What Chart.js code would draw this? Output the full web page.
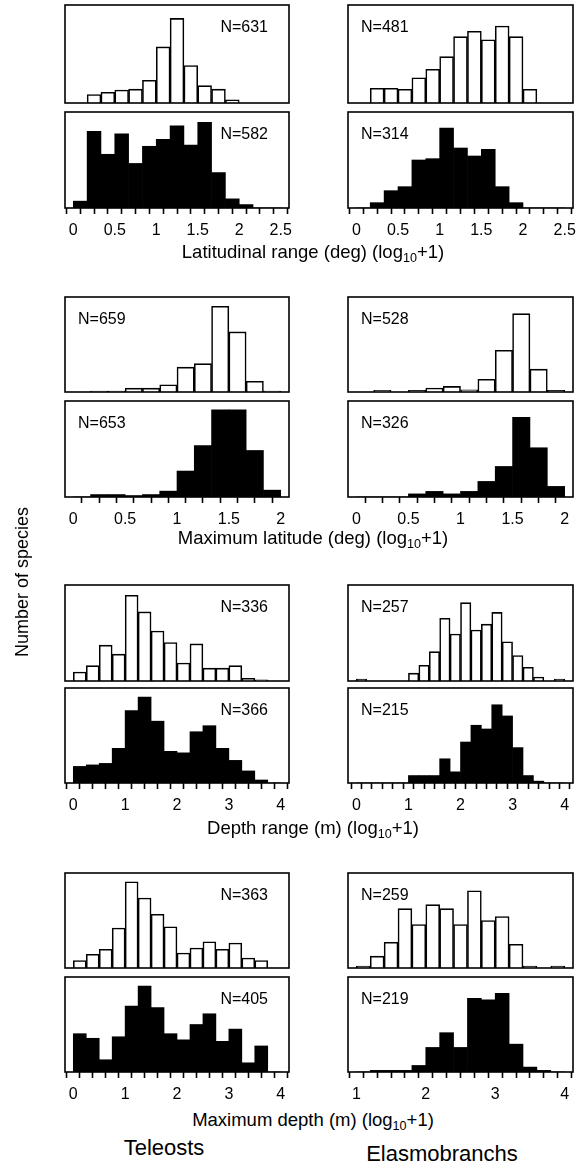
<!DOCTYPE html>
<html>
<head>
<meta charset="utf-8">
<script src="https://cdn.jsdelivr.net/npm/chart.js@4.4.1/dist/chart.umd.min.js"></script>
<style>
    body { margin: 0; background: #fff; }
    #figura { position: relative; width: 585px; height: 1165px; overflow: hidden; font-family: "Liberation Sans", Arial, sans-serif; color: #000; }
    #figura canvas { position: absolute; }
    .txt { position: absolute; white-space: nowrap; line-height: 1; }
    .txt sub { font-size: 0.68em; vertical-align: -0.3em; line-height: 0; }
</style>
</head>
<body>
<div id="figura"></div>
<script>
// --- Data: number of species per bin (open = upper panel, filled = lower panel) ---
const latRangeTicks = [0, 0.5, 1, 1.5, 2, 2.5];
const latRangeBin = 1 / 6;
const latRangeTelOpen   = [0, 19, 24, 29, 31, 51, 126, 190, 84, 39, 31, 7, 0, 0, 0];
const latRangeTelFilled = [6, 67, 47, 65, 39, 54, 60, 72, 55, 75, 31, 8, 3, 0, 0];
const latRangeElaOpen   = [0, 14, 14, 13, 24, 32, 44, 63, 68, 60, 73, 63, 13, 0, 0];
const latRangeElaFilled = [0, 4, 13, 16, 36, 37, 60, 45, 39, 44, 16, 4, 0, 0, 0];
const latRangeN = ['N=631', 'N=582', 'N=481', 'N=314'];

const maxLatTicks = [0, 0.5, 1, 1.5, 2];
const maxLatBin = 1 / 6;
const maxLatTelOpen   = [0, 3, 3, 11, 11, 21, 72, 82, 248, 174, 31, 3];
const maxLatTelFilled = [0, 5, 5, 3, 5, 12, 53, 105, 178, 178, 95, 14];
const maxLatElaOpen   = [0, 5, 0, 5, 12, 17, 7, 39, 128, 240, 70, 5];
const maxLatElaFilled = [0, 0, 0, 5, 9, 5, 9, 25, 49, 128, 79, 17];
const maxLatN = ['N=659', 'N=653', 'N=528', 'N=326'];

const depthTelTicks = [0, 1, 2, 3, 4];
const depthElaTicks = [0, 1, 2, 3, 4];
const depthTelBin = 0.25;
const depthElaBin = 0.2;
const depthTelOpen   = [7, 12, 28, 21, 67, 54, 39, 30, 14, 29, 10, 10, 12, 2, 1, 0];
const depthTelFilled = [11, 12, 13, 23, 48, 57, 41, 21, 20, 34, 38, 23, 15, 8, 2, 0];
const depthElaOpen   = [1, 0, 0, 0, 0, 4, 8, 15, 32, 24, 40, 26, 29, 35, 20, 13, 7, 2, 0, 1];
const depthElaFilled = [0, 0, 0, 0, 0, 4, 4, 4, 13, 6, 22, 31, 29, 42, 36, 19, 4, 1, 0, 0];
const depthN = ['N=336', 'N=366', 'N=257', 'N=215'];

const maxDepthTelTicks = [0, 1, 2, 3, 4];
const maxDepthElaTicks = [1, 2, 3, 4];
const maxDepthTelBin = 0.25;
const maxDepthElaBin = 0.2;
const maxDepthTelOpen   = [6, 11, 15, 32, 69, 56, 43, 33, 12, 16, 21, 15, 20, 8, 6, 0];
const maxDepthTelFilled = [25, 22, 8, 23, 43, 56, 42, 25, 21, 31, 38, 20, 28, 6, 17, 0];
const maxDepthElaOpen   = [1, 6, 13, 30, 22, 32, 30, 22, 39, 24, 26, 12, 1, 0, 1];
const maxDepthElaFilled = [0, 1, 1, 1, 4, 15, 24, 15, 45, 44, 48, 17, 3, 1, 0];
const maxDepthN = ['N=363', 'N=405', 'N=259', 'N=219'];

// y-axis top of each panel, same order as the N labels
const latRangeYMax = [220, 84, 93, 72];
const maxLatYMax = [275, 196, 291, 154];
const depthYMax = [75, 63, 49, 51];
const maxDepthYMax = [76, 62, 48, 58];

// --- Layout ---
const FONTE = '"Liberation Sans", Arial, sans-serif';
const COL_LEFT = [65, 348];
const COL_WIDTH = [224, 225];
const PAD = 15;
const AXIS_H = 34;

const figura = document.getElementById('figura');

// frame round the plotting area, as in the original
const moldura = {
    id: 'moldura',
    afterDraw(chart) {
        const { ctx, chartArea: a } = chart;
        ctx.save();
        ctx.lineWidth = 1.6;
        ctx.strokeStyle = '#000';
        ctx.strokeRect(a.left, a.top, a.right - a.left, a.bottom - a.top);
        ctx.restore();
    }
};

function texto(html, estilo) {
    const d = document.createElement('div');
    d.className = 'txt';
    d.innerHTML = html;
    Object.assign(d.style, estilo);
    figura.appendChild(d);
    return d;
}

function painel(opts) {
    const { left, top, bottom, counts, bin, ticks, yMax, filled, showAxis } = opts;
    const width = opts.width;
    const height = bottom - top;
    const first = ticks[0], last = ticks[ticks.length - 1];
    const ext = (last - first) * 0.04;
    const nEdges = Math.round((last - first) / bin);
    const edges = Array.from({ length: nEdges + 1 }, (_, i) => first + i * bin);

    const canvas = document.createElement('canvas');
    canvas.width = width + 2 * PAD;
    canvas.height = showAxis ? PAD + height + AXIS_H : height + 2 * PAD;
    canvas.style.left = (left - PAD) + 'px';
    canvas.style.top = (top - PAD) + 'px';
    figura.appendChild(canvas);

    new Chart(canvas, {
        type: 'bar',
        data: {
            datasets: [{
                label: filled ? 'filled' : 'open',
                data: counts.map((c, i) => ({ x: first + (i + 0.5) * bin, y: c })),
                backgroundColor: filled ? '#000' : '#fff',
                borderColor: '#000',
                borderWidth: filled ? 0 : 1.6,
                borderSkipped: 'start',
                barPercentage: 1,
                categoryPercentage: 1
            }]
        },
        options: {
            responsive: false,
            animation: false,
            events: [],
            layout: { padding: { left: PAD, right: PAD, top: PAD, bottom: showAxis ? 0 : PAD } },
            plugins: { legend: { display: false }, tooltip: { enabled: false } },
            scales: {
                x: {
                    type: 'linear',
                    display: showAxis,
                    min: first - ext,
                    max: last + ext,
                    offset: false,
                    bounds: 'data',
                    grid: { display: true, drawOnChartArea: false, drawTicks: true, tickLength: 6, tickWidth: 1.6, tickColor: '#000' },
                    border: { display: false },
                    ticks: {
                        autoSkip: false,
                        maxRotation: 0,
                        padding: 7,
                        color: '#000',
                        font: { family: FONTE, size: 16 },
                        callback: v => {
                            const t = ticks.find(m => Math.abs(m - v) < 1e-6);
                            return t === undefined ? '' : String(t);
                        }
                    },
                    afterBuildTicks: s => { s.ticks = edges.map(v => ({ value: v })); },
                    afterFit: s => { if (showAxis) s.height = AXIS_H; }
                },
                y: { display: false, min: 0, max: yMax }
            }
        },
        plugins: [moldura]
    });
}

// --- Groups of four panels ---
const grupos = [
    { rows: [5, 103, 112, 208], ticks: [latRangeTicks, latRangeTicks], bins: [latRangeBin, latRangeBin],
      series: [latRangeTelOpen, latRangeTelFilled, latRangeElaOpen, latRangeElaFilled],
      yMax: latRangeYMax, n: latRangeN, nSide: ['right', 'left'],
      titulo: 'Latitudinal range (deg) (log<sub>10</sub>+1)', tituloY: 252 },
    { rows: [297, 392, 401, 497], ticks: [maxLatTicks, maxLatTicks], bins: [maxLatBin, maxLatBin],
      series: [maxLatTelOpen, maxLatTelFilled, maxLatElaOpen, maxLatElaFilled],
      yMax: maxLatYMax, n: maxLatN, nSide: ['left', 'left'],
      titulo: 'Maximum latitude (deg) (log<sub>10</sub>+1)', tituloY: 538 },
    { rows: [585, 681, 688, 783], ticks: [depthTelTicks, depthElaTicks], bins: [depthTelBin, depthElaBin],
      series: [depthTelOpen, depthTelFilled, depthElaOpen, depthElaFilled],
      yMax: depthYMax, n: depthN, nSide: ['right', 'left'],
      titulo: 'Depth range (m) (log<sub>10</sub>+1)', tituloY: 828 },
    { rows: [873, 968, 977, 1072], ticks: [maxDepthTelTicks, maxDepthElaTicks], bins: [maxDepthTelBin, maxDepthElaBin],
      series: [maxDepthTelOpen, maxDepthTelFilled, maxDepthElaOpen, maxDepthElaFilled],
      yMax: maxDepthYMax, n: maxDepthN, nSide: ['right', 'left'],
      titulo: 'Maximum depth (m) (log<sub>10</sub>+1)', tituloY: 1120 }
];

grupos.forEach(g => {
    [0, 1].forEach(col => {
        [0, 1].forEach(row => {
            const k = col * 2 + row;
            const top = g.rows[row * 2], bottom = g.rows[row * 2 + 1];
            painel({
                left: COL_LEFT[col], width: COL_WIDTH[col], top, bottom,
                counts: g.series[k], bin: g.bins[col], ticks: g.ticks[col],
                yMax: g.yMax[k], filled: row === 1, showAxis: row === 1
            });
            const estilo = { fontSize: '16px', top: (top + 22) + 'px', transform: 'translateY(-50%)' };
            if (g.nSide[col] === 'left') estilo.left = (COL_LEFT[col] + 13) + 'px';
            else estilo.right = (585 - (COL_LEFT[col] + COL_WIDTH[col] - 21)) + 'px';
            texto(g.n[k], estilo);
        });
    });
    texto(g.titulo, { fontSize: '18.5px', left: '313px', top: g.tituloY + 'px', transform: 'translate(-50%, -50%)' });
});

texto('Number of species', { fontSize: '18px', left: '22px', top: '582px', transform: 'translate(-50%, -50%) rotate(-90deg)' });
texto('Teleosts', { fontSize: '22px', left: '164px', top: '1148px', transform: 'translate(-50%, -50%)' });
texto('Elasmobranchs', { fontSize: '22px', left: '442px', top: '1154px', transform: 'translate(-50%, -50%)' });
</script>
</body>
</html>
